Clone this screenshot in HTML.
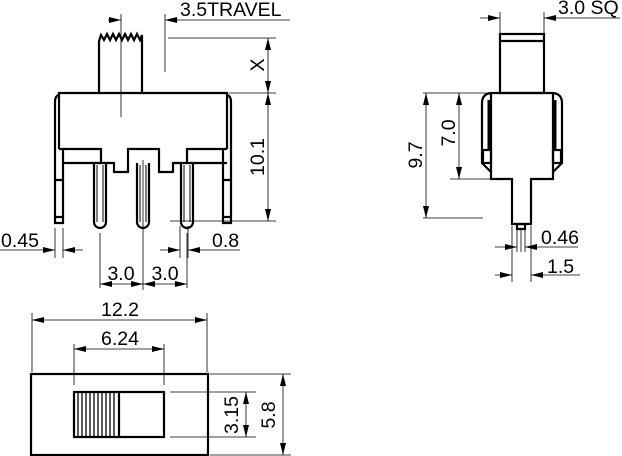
<!DOCTYPE html>
<html><head><meta charset="utf-8"><style>
html,body{margin:0;padding:0;background:#fff;}
svg{display:block;}
text{font-family:"Liberation Sans",Arial,sans-serif;font-size:19.5px;fill:#000;}
</style></head><body>
<svg width="622" height="456" viewBox="0 0 622 456" xmlns="http://www.w3.org/2000/svg">
<defs>
<marker id="a" viewBox="0 0 12 6" refX="12" refY="3" markerWidth="12" markerHeight="6" markerUnits="userSpaceOnUse" orient="auto-start-reverse">
<path d="M0,0 L12,3 L0,6 Z" fill="#000"/></marker>
</defs>
<g fill="none" stroke="#000">
<g stroke-width="2.2">
<path d="M99,93 L99,41 L101,35 L104,40 L107,34 L110,40 L113,34 L116,40 L119,34 L122,40 L125,34 L128,40 L131,34 L134,40 L137,34 L140,40 L142,35 L142,93"/>
<path d="M59,149 L59,93 L227,93 L227,149"/>
<path d="M59,149 L101,149 L101,163 L114,163 L114,172 L128,172 L128,149 L159,149 L159,172 L173,172 L173,163 L187,163 L187,149 L227,149"/>
<path d="M63,163 L101,163 M187,163 L227,163"/>
<path d="M59,95 Q55,96 55,102 L55,223 L63,223 L63,149"/>
<path d="M227,95 Q231,96 231,102 L231,223 L223,223 L223,149"/>
<path d="M55,180 L63,180 M55,217 L63,217 M223,180 L231,180 M223,217 L231,217"/>
<path d="M94,163 L94,222 A6,6 0 0 0 106,222 L106,163"/>
<path d="M137,163 L137,222 A6,6 0 0 0 149,222 L149,163"/>
<path d="M181,163 L181,222 A6,6 0 0 0 193,222 L193,163"/>
</g>
<g stroke-width="1">
<path d="M97,165 L97,222 M103,165 L103,222 M140,165 L140,222 M146,165 L146,222 M184,165 L184,222 M190,165 L190,222"/>
</g>
<g stroke-width="0.8">
<line x1="121" y1="14" x2="121" y2="117"/>
<line x1="165" y1="14" x2="165" y2="72"/>
<line x1="108" y1="20" x2="121" y2="20" marker-end="url(#a)"/>
<line x1="290" y1="20" x2="165" y2="20" marker-end="url(#a)"/>
<line x1="168" y1="38" x2="276" y2="38"/>
<line x1="229" y1="93" x2="276" y2="93"/>
<line x1="170" y1="221" x2="276" y2="221"/>
<line x1="268" y1="38" x2="268" y2="93" marker-start="url(#a)" marker-end="url(#a)"/>
<line x1="268" y1="93" x2="268" y2="221" marker-start="url(#a)" marker-end="url(#a)"/>
<line x1="143" y1="160" x2="143" y2="290"/>
<line x1="55" y1="228" x2="55" y2="258"/>
<line x1="63" y1="228" x2="63" y2="258"/>
<line x1="0" y1="250" x2="55" y2="250" marker-end="url(#a)"/>
<line x1="83" y1="250" x2="63" y2="250" marker-end="url(#a)"/>
<line x1="180" y1="226" x2="180" y2="258"/>
<line x1="188" y1="226" x2="188" y2="258"/>
<line x1="160" y1="250" x2="180" y2="250" marker-end="url(#a)"/>
<line x1="240" y1="250" x2="188" y2="250" marker-end="url(#a)"/>
<line x1="100" y1="233" x2="100" y2="288"/>
<line x1="187" y1="233" x2="187" y2="288"/>
<line x1="100" y1="284" x2="143" y2="284" marker-start="url(#a)" marker-end="url(#a)"/>
<line x1="143" y1="284" x2="187" y2="284" marker-start="url(#a)" marker-end="url(#a)"/>
</g>
<g stroke-width="2.2">
<rect x="500" y="34" width="44" height="59"/>
<line x1="500" y1="41" x2="544" y2="41"/>
<path d="M491,93 L553,93 M491,93 L491,179 L512,179 L512,224 L531,224 L531,179 L553,179 L553,93"/>
<path d="M491,93 Q482,94 482,103 L482,163 L491,172"/>
<path d="M553,93 Q562,94 562,103 L562,163 L553,172"/>
<rect x="483" y="150" width="8" height="13"/>
<rect x="553" y="150" width="8" height="13"/>
<rect x="517" y="224" width="8" height="5"/>
</g>
<path d="M489,100 L489,150 M555,100 L555,150" stroke-width="3"/>
<g stroke-width="0.8">
<line x1="500" y1="12" x2="500" y2="33"/>
<line x1="544" y1="12" x2="544" y2="33"/>
<line x1="480" y1="18" x2="500" y2="18" marker-end="url(#a)"/>
<line x1="620" y1="18" x2="544" y2="18" marker-end="url(#a)"/>
<line x1="423" y1="93" x2="490" y2="93"/>
<line x1="450" y1="179" x2="491" y2="179"/>
<line x1="423" y1="218" x2="483" y2="218"/>
<line x1="426" y1="93" x2="426" y2="218" marker-start="url(#a)" marker-end="url(#a)"/>
<line x1="459" y1="93" x2="459" y2="179" marker-start="url(#a)" marker-end="url(#a)"/>
<line x1="517" y1="229" x2="517" y2="252"/>
<line x1="525" y1="229" x2="525" y2="252"/>
<line x1="521" y1="229" x2="521" y2="252"/>
<line x1="495" y1="247" x2="517" y2="247" marker-end="url(#a)"/>
<line x1="578" y1="247" x2="525" y2="247" marker-end="url(#a)"/>
<line x1="512" y1="226" x2="512" y2="282"/>
<line x1="531" y1="226" x2="531" y2="282"/>
<line x1="495" y1="275" x2="512" y2="275" marker-end="url(#a)"/>
<line x1="580" y1="275" x2="531" y2="275" marker-end="url(#a)"/>
</g>
<g stroke-width="2.2">
<rect x="31" y="374" width="177" height="81"/>
<rect x="74" y="392" width="90" height="45"/>
<line x1="119" y1="392" x2="119" y2="437"/>
</g>
<g stroke-width="1.3">
<path d="M78,392V437 M82,392V437 M86,392V437 M90,392V437 M94,392V437 M98,392V437 M102,392V437 M106,392V437 M110,392V437 M114,392V437"/>
</g>
<g stroke-width="0.8">
<line x1="32" y1="313" x2="32" y2="372"/>
<line x1="207" y1="313" x2="207" y2="372"/>
<line x1="32" y1="320" x2="207" y2="320" marker-start="url(#a)" marker-end="url(#a)"/>
<line x1="74" y1="344" x2="74" y2="385"/>
<line x1="164" y1="344" x2="164" y2="385"/>
<line x1="74" y1="349" x2="164" y2="349" marker-start="url(#a)" marker-end="url(#a)"/>
<line x1="170" y1="392" x2="256" y2="392"/>
<line x1="170" y1="437" x2="256" y2="437"/>
<line x1="246" y1="392" x2="246" y2="437" marker-start="url(#a)" marker-end="url(#a)"/>
<line x1="210" y1="374" x2="291" y2="374"/>
<line x1="210" y1="455" x2="291" y2="455"/>
<line x1="283" y1="374" x2="283" y2="455" marker-start="url(#a)" marker-end="url(#a)"/>
</g>
</g>
<text x="180" y="16">3.5TRAVEL</text>
<text transform="translate(264,65) rotate(-90)" text-anchor="middle">X</text>
<text transform="translate(264,157) rotate(-90)" text-anchor="middle">10.1</text>
<text x="1" y="247">0.45</text>
<text x="212" y="247">0.8</text>
<text x="121" y="280" text-anchor="middle">3.0</text>
<text x="165" y="280" text-anchor="middle">3.0</text>
<text x="558" y="14">3.0 SQ</text>
<text transform="translate(422,155) rotate(-90)" text-anchor="middle">9.7</text>
<text transform="translate(455,133) rotate(-90)" text-anchor="middle">7.0</text>
<text x="541" y="244">0.46</text>
<text x="547" y="273">1.5</text>
<text x="120" y="316" text-anchor="middle">12.2</text>
<text x="120" y="345" text-anchor="middle">6.24</text>
<text transform="translate(238,415) rotate(-90)" text-anchor="middle">3.15</text>
<text transform="translate(275,415) rotate(-90)" text-anchor="middle">5.8</text>
</svg>
</body></html>
